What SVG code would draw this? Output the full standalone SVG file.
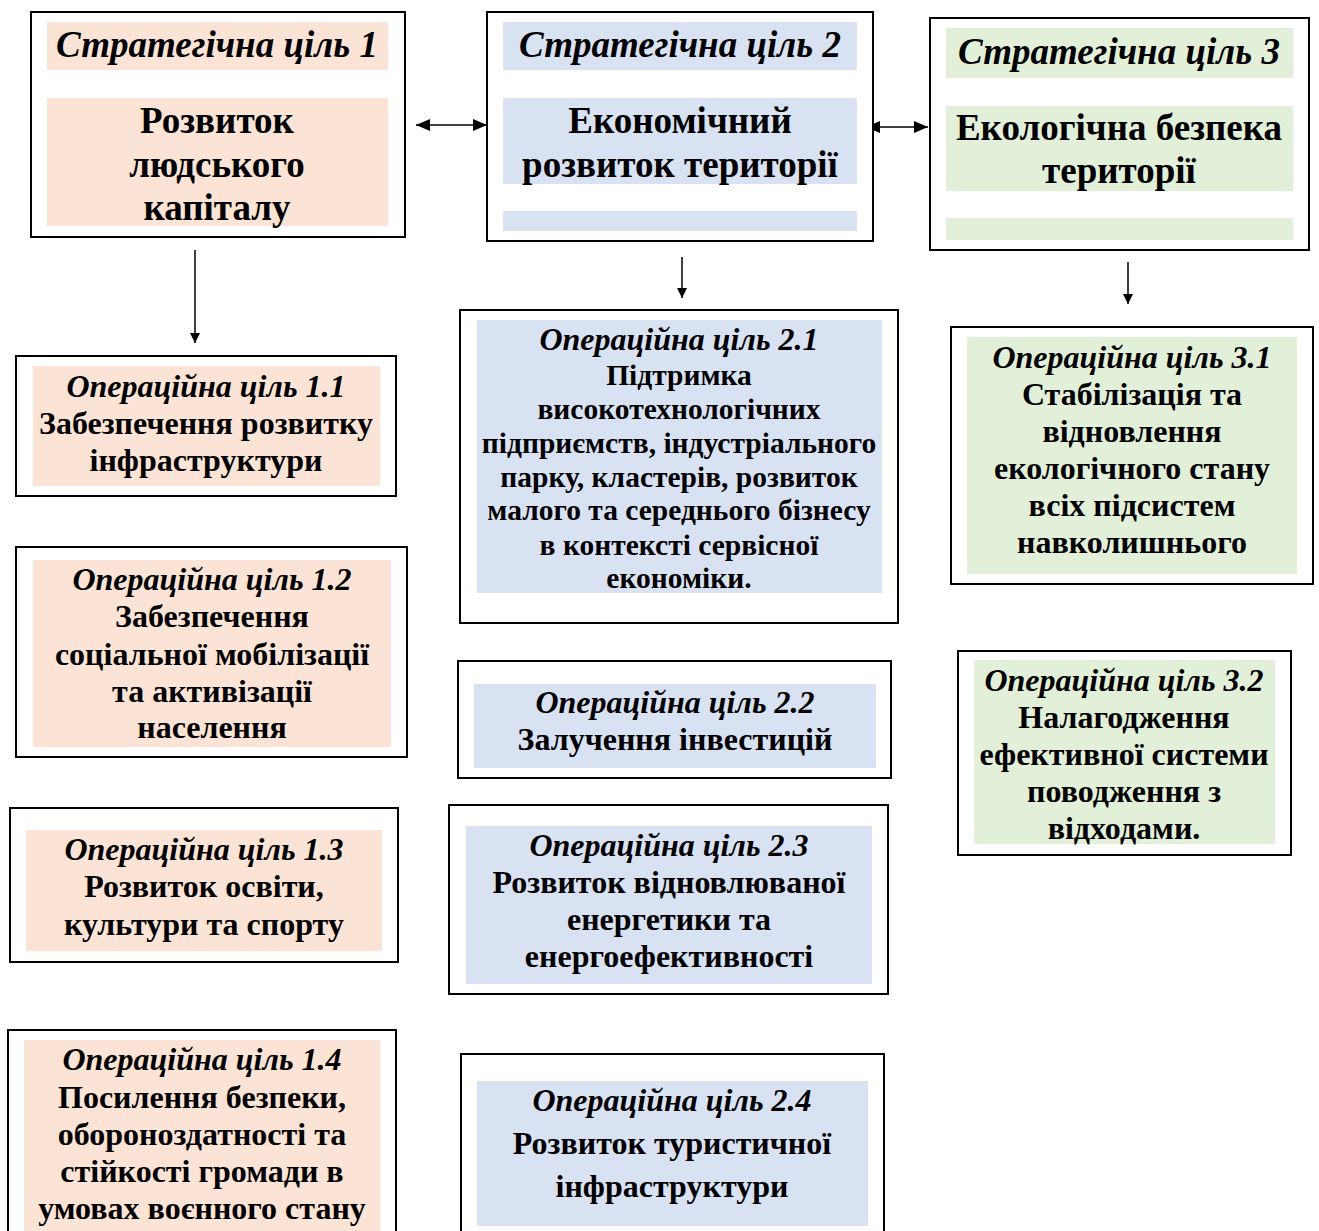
<svg xmlns="http://www.w3.org/2000/svg" width="1319" height="1231" viewBox="0 0 1319 1231">
<style>
.box{fill:#fff;stroke:#000;stroke-width:2}
.p{fill:#FBE4D5}
.b{fill:#D9E2F3}
.g{fill:#E2EFD9}
text{font-family:"Liberation Serif","Times New Roman",serif;font-weight:bold;fill:#000;text-anchor:middle}
.sh{font-size:37px;font-style:italic}
.sb{font-size:37px}
.oh{font-size:32px;font-style:italic}
.ob{font-size:32px}
.o2h{font-size:32px;font-style:italic}
.o2b{font-size:29.5px}
.c{stroke:#000;stroke-width:1.5;fill:none}
</style>
<defs>
<marker id="ah" viewBox="0 0 10 10" refX="10" refY="5" markerWidth="10" markerHeight="10" markerUnits="userSpaceOnUse" orient="auto-start-reverse">
<path d="M0,0 L10,5 L0,10 z" fill="#000"/>
</marker>
<marker id="ah2" viewBox="0 0 14 12" refX="14" refY="6" markerWidth="14" markerHeight="12" markerUnits="userSpaceOnUse" orient="auto-start-reverse">
<path d="M0,0 L14,6 L0,12 z" fill="#000"/>
</marker>
</defs>

<g id="connectors">
<line class="c" x1="195" y1="250" x2="195" y2="343" marker-end="url(#ah)"/>
<line class="c" x1="682" y1="257" x2="682" y2="298" marker-end="url(#ah)"/>
<line class="c" x1="1128" y1="262" x2="1128" y2="304" marker-end="url(#ah)"/>
<line class="c" x1="416" y1="125" x2="487" y2="125" marker-start="url(#ah2)" marker-end="url(#ah2)"/>
<line class="c" x1="866" y1="127" x2="928" y2="127" marker-start="url(#ah2)" marker-end="url(#ah2)"/>
</g>

<g id="sg1">
<rect class="box" x="31" y="12" width="374" height="225"/>
<rect class="p" x="47" y="22" width="341" height="48"/>
<rect class="p" x="47" y="98" width="341" height="128"/>
<text class="sh" x="217" y="57">Стратегічна ціль 1</text>
<text class="sb" x="217" y="133">Розвиток</text>
<text class="sb" x="217" y="177">людського</text>
<text class="sb" x="217" y="220">капіталу</text>
</g>

<g id="sg2">
<rect class="box" x="487" y="12" width="386" height="229"/>
<rect class="b" x="503" y="22" width="354" height="48"/>
<rect class="b" x="503" y="98" width="354" height="86"/>
<rect class="b" x="503" y="211" width="354" height="20"/>
<text class="sh" x="680" y="57">Стратегічна ціль 2</text>
<text class="sb" x="680" y="133">Економічний</text>
<text class="sb" x="680" y="177">розвиток території</text>
</g>

<g id="sg3">
<rect class="box" x="930" y="18" width="379" height="232"/>
<rect class="g" x="946" y="28" width="347" height="50"/>
<rect class="g" x="946" y="106" width="347" height="85"/>
<rect class="g" x="946" y="218" width="347" height="22"/>
<text class="sh" x="1119" y="64">Стратегічна ціль 3</text>
<text class="sb" x="1119" y="140">Екологічна безпека</text>
<text class="sb" x="1119" y="183">території</text>
</g>

<g id="op11">
<rect class="box" x="16" y="356" width="380" height="140"/>
<rect class="p" x="33" y="366" width="347" height="120"/>
<text class="oh" x="206" y="397">Операційна ціль 1.1</text>
<text class="ob" x="206" y="434">Забезпечення розвитку</text>
<text class="ob" x="206" y="471">інфраструктури</text>
</g>

<g id="op12">
<rect class="box" x="16" y="547" width="391" height="210"/>
<rect class="p" x="33" y="560" width="358" height="187"/>
<text class="oh" x="212" y="590">Операційна ціль 1.2</text>
<text class="ob" x="212" y="627">Забезпечення</text>
<text class="ob" x="212" y="665">соціальної мобілізації</text>
<text class="ob" x="212" y="702">та активізації</text>
<text class="ob" x="212" y="738">населення</text>
</g>

<g id="op13">
<rect class="box" x="10" y="808" width="388" height="154"/>
<rect class="p" x="26" y="830" width="356" height="121"/>
<text class="oh" x="204" y="860">Операційна ціль 1.3</text>
<text class="ob" x="204" y="897">Розвиток освіти,</text>
<text class="ob" x="204" y="935">культури та спорту</text>
</g>

<g id="op14">
<rect class="box" x="8" y="1030" width="388" height="210"/>
<rect class="p" x="24" y="1040" width="356" height="191"/>
<text class="oh" x="202" y="1070">Операційна ціль 1.4</text>
<text class="ob" x="202" y="1108">Посилення безпеки,</text>
<text class="ob" x="202" y="1145">обороноздатності та</text>
<text class="ob" x="202" y="1182">стійкості громади в</text>
<text class="ob" x="202" y="1219">умовах воєнного стану</text>
</g>

<g id="op21">
<rect class="box" x="460" y="310" width="438" height="313"/>
<rect class="b" x="477" y="320" width="405" height="273"/>
<text class="o2h" x="679" y="350">Операційна ціль 2.1</text>
<text class="o2b" x="679" y="385">Підтримка</text>
<text class="o2b" x="679" y="419">високотехнологічних</text>
<text class="o2b" x="679" y="453">підприємств, індустріального</text>
<text class="o2b" x="679" y="487">парку, кластерів, розвиток</text>
<text class="o2b" x="679" y="520">малого та середнього бізнесу</text>
<text class="o2b" x="679" y="555">в контексті сервісної</text>
<text class="o2b" x="679" y="588">економіки.</text>
</g>

<g id="op22">
<rect class="box" x="458" y="661" width="433" height="117"/>
<rect class="b" x="474" y="684" width="402" height="84"/>
<text class="oh" x="675" y="713">Операційна ціль 2.2</text>
<text class="ob" x="675" y="750">Залучення інвестицій</text>
</g>

<g id="op23">
<rect class="box" x="449" y="805" width="439" height="189"/>
<rect class="b" x="466" y="826" width="406" height="158"/>
<text class="oh" x="669" y="856">Операційна ціль 2.3</text>
<text class="ob" x="669" y="893">Розвиток відновлюваної</text>
<text class="ob" x="669" y="930">енергетики та</text>
<text class="ob" x="669" y="967">енергоефективності</text>
</g>

<g id="op24">
<rect class="box" x="461" y="1054" width="423" height="190"/>
<rect class="b" x="477" y="1081" width="391" height="145"/>
<text class="oh" x="672" y="1111">Операційна ціль 2.4</text>
<text class="ob" x="672" y="1154">Розвиток туристичної</text>
<text class="ob" x="672" y="1197">інфраструктури</text>
</g>

<g id="op31">
<rect class="box" x="951" y="327" width="362" height="257"/>
<rect class="g" x="967" y="337" width="330" height="237"/>
<text class="oh" x="1132" y="368">Операційна ціль 3.1</text>
<text class="ob" x="1132" y="405">Стабілізація та</text>
<text class="ob" x="1132" y="442">відновлення</text>
<text class="ob" x="1132" y="479">екологічного стану</text>
<text class="ob" x="1132" y="516">всіх підсистем</text>
<text class="ob" x="1132" y="553">навколишнього</text>
</g>

<g id="op32">
<rect class="box" x="958" y="651" width="333" height="204"/>
<rect class="g" x="974" y="660" width="301" height="184"/>
<text class="oh" x="1124" y="691">Операційна ціль 3.2</text>
<text class="ob" x="1124" y="728">Налагодження</text>
<text class="ob" x="1124" y="765">ефективної системи</text>
<text class="ob" x="1124" y="802">поводження з</text>
<text class="ob" x="1124" y="839">відходами.</text>
</g>
</svg>
